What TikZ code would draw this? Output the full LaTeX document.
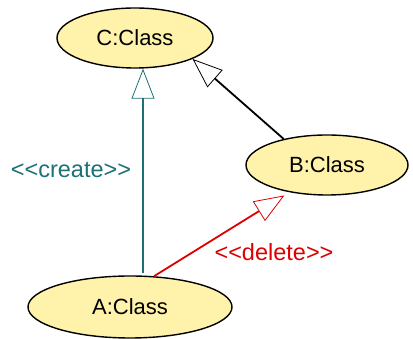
\documentclass[tikz,border=0pt]{standalone}
\usepackage{fontspec}
\usepackage{xcolor}
\usepackage{tikz}
\usetikzlibrary{arrows.meta,shapes.geometric}
\newfontfamily\umlfont{Liberation Sans}
\definecolor{objfill}{RGB}{255, 242, 170}
\definecolor{createteal}{RGB}{28, 112, 118}
\definecolor{deletered}{RGB}{220, 0, 0}

\begin{document}
\begin{tikzpicture}[
  x=1pt, y=1pt,
  objnode/.style={ellipse, draw=black, fill=objfill, line width=1.4pt, inner sep=0pt, font=\umlfont\fontsize{22}{26}\selectfont},
  generalize/.style={-{Triangle[open, length=30pt, width=23pt, line width=0.8pt]}, line width=1.8pt},
  stereo/.style={font=\umlfont\fontsize{23.5}{27}\selectfont}
]
\useasboundingbox (0,0) rectangle (413,339);

\node[objnode, minimum width=156pt, minimum height=60pt] (C) at (135,301) {C:Class};
\node[objnode, minimum width=162pt, minimum height=60pt] (B) at (327,174) {B:Class};
\node[objnode, minimum width=204pt, minimum height=62pt] (A) at (130,32) {A:Class};

\coordinate (a1) at (143,66);
\draw[generalize, color=createteal] (a1) -- (a1 |- C.south);
\draw[generalize, color=black] (B.149) -- (C.340);
\draw[generalize, color=deletered, shorten >=6pt] (A.52) -- (B.216);

\node[stereo, text=createteal] (lblcreate) at (71,169) {<<create>>};
\node[stereo, text=deletered] (lbldelete) at (274,87) {<<delete>>};
\end{tikzpicture}
\end{document}
